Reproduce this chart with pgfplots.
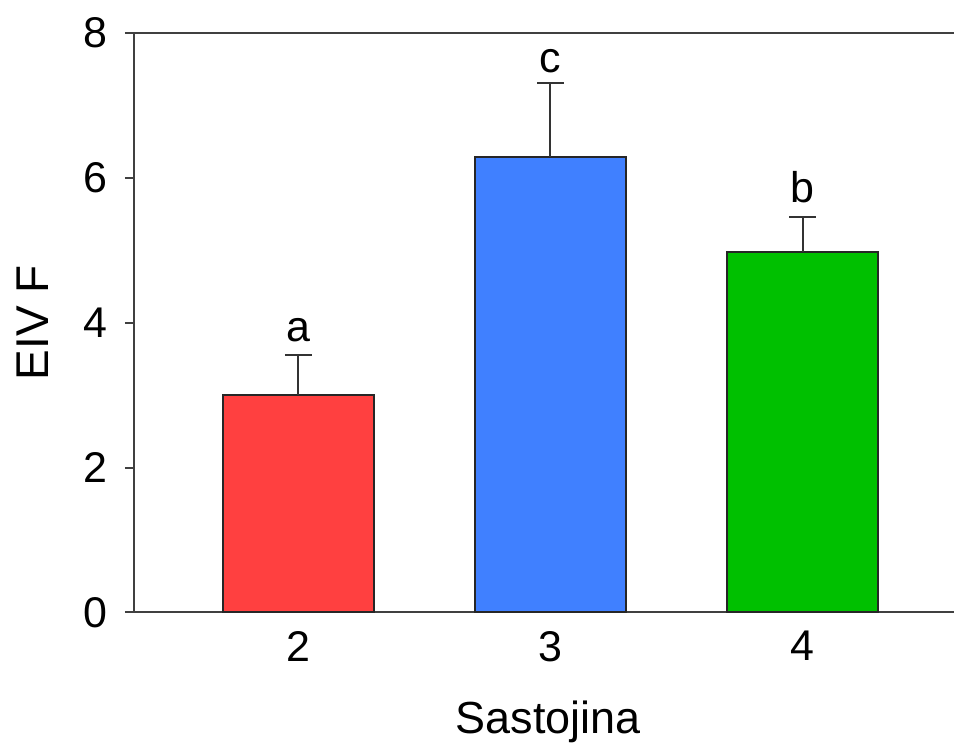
\documentclass[border=0pt]{standalone}
\usepackage{pgfplots}
\pgfplotsset{compat=1.18}
\usepackage{fontspec}
\setmainfont{Liberation Sans}
\definecolor{barred}{RGB}{255,64,64}
\definecolor{barblue}{RGB}{64,128,255}
\definecolor{bargreen}{RGB}{0,192,0}
\pgfplotsset{
    errstyle/.style={
        error bars/.cd, y dir=plus, y explicit,
        error bar style={line width=1pt, black!80},
        error mark options={rotate=90, black!80, mark size=6.75pt, line width=1pt}
    }
}
\begin{document}
\begin{tikzpicture}
\begin{axis}[
    scale only axis,
    width=410.5pt, height=290pt,
    xmin=1.348, xmax=4.6,
    ymin=0, ymax=8,
    axis x line=box, axis y line=left,
    axis line style={-, line width=1pt, black!75},
    xtick={2,3,4}, xticklabels={2,3,4},
    xtick style={draw=none},
    ytick={0,2,4,6,8},
    ytick pos=left,
    tick align=outside,
    ytick style={line width=1pt, black!75},
    major tick length=4.5pt,
    /pgf/number format/assume math mode=true,
    ticklabel style={font=\fontsize{21.5}{25}\selectfont},
    yticklabel style={xshift=-5pt},
    xticklabel style={yshift=-1.5pt},
    xlabel={Sastojina},
    ylabel={EIV F},
    xlabel style={font=\fontsize{22.5}{27}\selectfont, xshift=2.25pt, yshift=-12.5pt},
    ylabel style={font=\fontsize{23}{27}\selectfont, yshift=11pt},
    ybar, bar shift=0pt, bar width=0.6,
]
\addplot[fill=barred, draw=black!85, line width=1pt, errstyle]
    coordinates {(2,3.00) +- (0,0.55)};
\addplot[fill=barblue, draw=black!85, line width=1pt, errstyle]
    coordinates {(3,6.29) +- (0,1.02)};
\addplot[fill=bargreen, draw=black!85, line width=1pt, errstyle]
    coordinates {(4,4.97) +- (0,0.49)};
\node[anchor=base, yshift=7pt, font=\fontsize{21.5}{25}\selectfont] at (axis cs:2,3.55) {a};
\node[anchor=base, yshift=5pt, font=\fontsize{21.5}{25}\selectfont] at (axis cs:3,7.31) {c};
\node[anchor=base, yshift=7pt, font=\fontsize{21.5}{25}\selectfont] at (axis cs:4,5.46) {b};
\end{axis}
\path (current axis.north) ++(0,16.5pt);
\path (current axis.west) ++(-67pt,0);
\end{tikzpicture}
\end{document}
